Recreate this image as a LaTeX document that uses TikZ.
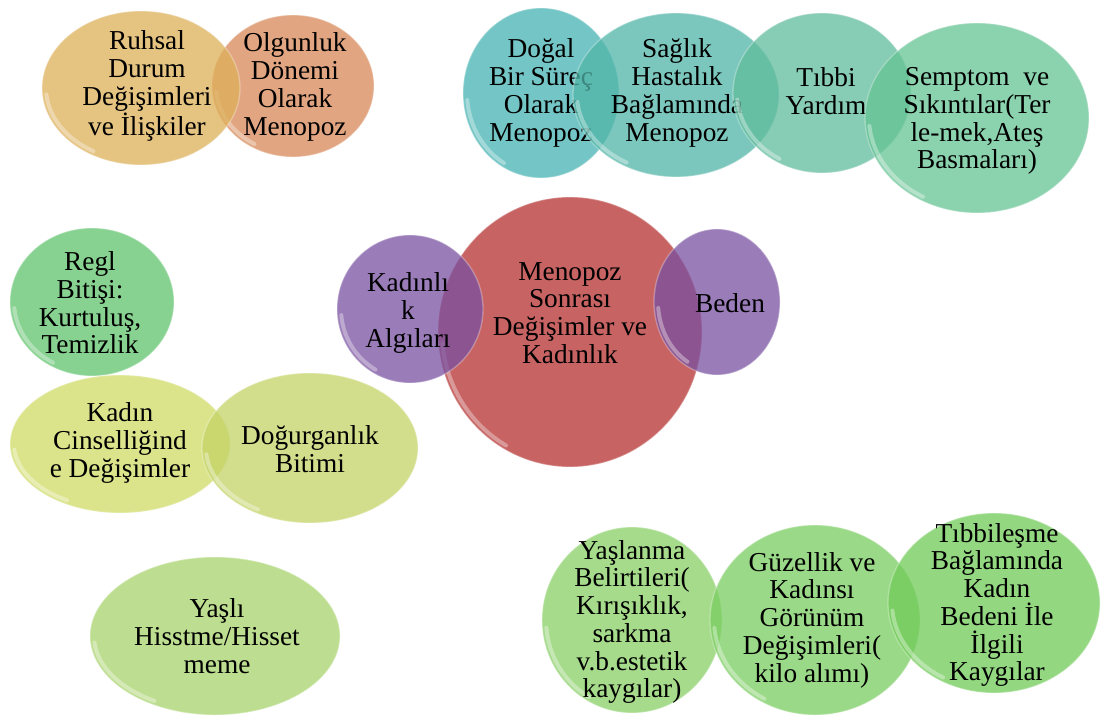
\documentclass[tikz,border=0pt]{standalone}
\usepackage{fontspec}
\setmainfont{Liberation Serif}
\newfontfamily\tnr{Liberation Serif}
\usetikzlibrary{shapes.geometric}
\definecolor{cRuh}{RGB}{221,175,88}
\definecolor{cOlg}{RGB}{215,135,88}
\definecolor{cDog}{RGB}{70,178,178}
\definecolor{cSag}{RGB}{81,181,168}
\definecolor{cTib}{RGB}{95,188,155}
\definecolor{cSem}{RGB}{101,195,148}
\definecolor{cRed}{RGB}{181,48,48}
\definecolor{cPur}{RGB}{121,81,161}
\definecolor{cReg}{RGB}{95,195,108}
\definecolor{cCin}{RGB}{208,219,101}
\definecolor{cDgr}{RGB}{195,211,101}
\definecolor{cYas}{RGB}{168,211,108}
\definecolor{cYbl}{RGB}{135,208,101}
\definecolor{cGuz}{RGB}{121,205,95}
\definecolor{cTbl}{RGB}{112,203,88}
\tikzset{
  bubble/.style={ellipse, inner sep=0pt, fill opacity=0.75, draw=white, draw opacity=0.3, line width=1pt},
  gloss/.style={white, opacity=0.35, line width=3pt, line cap=round},
  lbl/.style={align=center, inner sep=0pt, font=\tnr\fontsize{20.5}{20.8}\selectfont, text=black}
}
\newcommand\bubl[6]{%
  \node[bubble, fill=#6, minimum width={1.5*#4pt}, minimum height={1.5*#5pt}] (#1) at (#2,#3) {};
  \pgfmathsetmacro\hrx{#4-4}\pgfmathsetmacro\hry{#5-4}%
  \pgfmathsetmacro\hsx{#2+\hrx*cos(175)}\pgfmathsetmacro\hsy{#3+\hry*sin(175)}%
  \draw[gloss] (\hsx,\hsy) arc[start angle=175, end angle=120, x radius=\hrx, y radius=\hry];
}
\begin{document}
\begin{tikzpicture}[x=0.75pt,y=-0.75pt]
\fill[white] (0,0) rectangle (1106,720);
\useasboundingbox (0,0) rectangle (1106,720);
% top left pair
\bubl{olg}{293}{86}{81}{71}{cOlg}
\bubl{ruh}{141}{88}{99}{77}{cRuh}
\node[lbl] (ruh-t) at (147,86) {Ruhsal\\Durum\\Değişimleri\\ve İlişkiler};
\node[lbl] (olg-t) at (295,87) {Olgunluk\\Dönemi\\Olarak\\Menopoz};
% top right row
\bubl{dog}{541}{93}{78}{85}{cDog}
\node[lbl] (dog-t) at (541,93) {Doğal\\Bir Süreç\\Olarak\\Menopoz};
\bubl{sag}{676}{95}{103}{82}{cSag}
\node[lbl] (sag-t) at (677,93) {Sağlık\\Hastalık\\Bağlamında\\Menopoz};
\bubl{tib}{822}{93}{89}{80}{cTib}
\node[lbl] (tib-t) at (826,91) {Tıbbi\\Yardım};
\bubl{sem}{977}{118}{112}{95}{cSem}
\node[lbl] (sem-t) at (977,121) {Semptom\ \ ve\\Sıkıntılar(Ter\\le-mek,Ateş\\Basmaları)};
% center
\bubl{red}{570}{332}{132}{135}{cRed}
\bubl{kad}{410}{309}{73}{74}{cPur}
\bubl{bed}{717}{302}{63}{73}{cPur}
\node[lbl] (red-t) at (570,313) {Menopoz\\Sonrası\\Değişimler ve\\Kadınlık};
\node[lbl] (kad-t) at (408,313) {Kadınlı\\k\\Algıları};
\node[lbl] (bed-t) at (730,303) {Beden};
% left
\bubl{reg}{92}{302}{82}{74}{cReg}
\node[lbl] (reg-t) at (90,303) {Regl\\Bitişi:\\Kurtuluş,\\Temizlik};
\bubl{cin}{120}{444}{110}{69}{cCin}
\bubl{dgr}{310}{448}{108}{75}{cDgr}
\node[lbl] (cin-t) at (120,443) {Kadın\\Cinselliğind\\e Değişimler};
\node[lbl] (dgr-t) at (310,449) {Doğurganlık\\Bitimi};
\bubl{yas}{215}{636}{125}{79}{cYas}
\node[lbl] (yas-t) at (217,636) {Yaşlı\\Hisstme/Hisset\\meme};
% bottom right
\bubl{ybl}{632}{620}{90}{93}{cYbl}
\bubl{guz}{815}{620}{105}{95}{cGuz}
\bubl{tbl}{994}{603}{106}{90}{cTbl}
\node[lbl] (ybl-t) at (632,622) {Yaşlanma\\Belirtileri(\\Kırışıklık,\\sarkma\\v.b.estetik\\kaygılar)};
\node[lbl] (guz-t) at (812,620) {Güzellik ve\\Kadınsı\\Görünüm\\Değişimleri(\\kilo alımı)};
\node[lbl] (tbl-t) at (997,605) {Tıbbileşme\\Bağlamında\\Kadın\\Bedeni İle\\İlgili\\Kaygılar};
\end{tikzpicture}
\end{document}
